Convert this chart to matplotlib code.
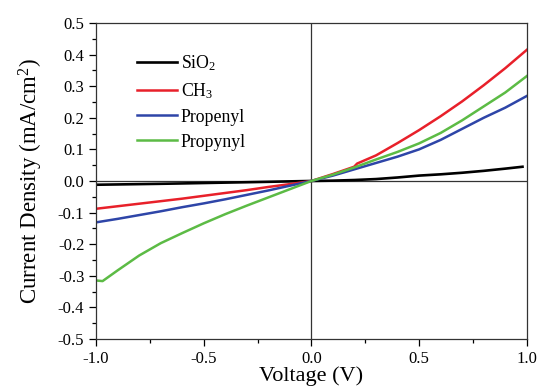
import matplotlib
matplotlib.use("Agg")
import matplotlib.pyplot as plt
from matplotlib.ticker import MultipleLocator

plt.rcParams['font.family'] = 'Liberation Serif'
plt.rcParams['mathtext.fontset'] = 'custom'
plt.rcParams['mathtext.rm'] = 'Liberation Serif'
plt.rcParams['mathtext.it'] = 'Liberation Serif:italic'

# values
v_sio2 = [-1.0, -0.9, -0.8, -0.7, -0.6, -0.5, -0.4, -0.3, -0.2, -0.1, 0.0,
          0.1, 0.2, 0.3, 0.4, 0.5, 0.6, 0.7, 0.8, 0.9, 0.98]
j_sio2 = [-0.012, -0.011, -0.010, -0.009, -0.0078, -0.0065, -0.0052, -0.004, -0.0027, -0.0013, 0.0,
          0.001, 0.003, 0.006, 0.011, 0.017, 0.021, 0.026, 0.032, 0.039, 0.045]

v_ch3 = [-1.0, -0.9, -0.8, -0.7, -0.6, -0.5, -0.4, -0.3, -0.2, -0.1, 0.0,
         0.1, 0.198, 0.212, 0.3, 0.4, 0.5, 0.6, 0.7, 0.8, 0.9, 1.0]
j_ch3 = [-0.088, -0.080, -0.072, -0.064, -0.056, -0.047, -0.038, -0.029, -0.019, -0.010, 0.0,
         0.022, 0.045, 0.055, 0.081, 0.120, 0.161, 0.205, 0.252, 0.303, 0.357, 0.415]

v_propenyl = [-1.0, -0.9, -0.8, -0.7, -0.6, -0.5, -0.4, -0.3, -0.2, -0.1, 0.0,
              0.1, 0.2, 0.3, 0.4, 0.5, 0.6, 0.7, 0.8, 0.9, 1.0]
j_propenyl = [-0.131, -0.120, -0.108, -0.096, -0.083, -0.071, -0.058, -0.044, -0.030, -0.015, 0.0,
              0.017, 0.037, 0.057, 0.077, 0.100, 0.130, 0.165, 0.200, 0.232, 0.269]

v_propynyl = [-1.0, -0.97, -0.9, -0.8, -0.7, -0.6, -0.5, -0.4, -0.3, -0.2, -0.1, 0.0,
              0.1, 0.2, 0.3, 0.4, 0.5, 0.6, 0.7, 0.8, 0.9, 1.0]
j_propynyl = [-0.315, -0.317, -0.283, -0.236, -0.197, -0.165, -0.134, -0.105, -0.078, -0.052, -0.026, 0.0,
              0.020, 0.043, 0.068, 0.092, 0.119, 0.152, 0.192, 0.236, 0.280, 0.332]

fig = plt.figure(figsize=(5.37, 3.9), dpi=100)
ax = fig.add_axes([0.179, 0.131, 0.802, 0.810])

ax.axhline(0, color='#333333', lw=0.9, zorder=1)
ax.axvline(0, color='#333333', lw=0.9, zorder=1)

ax.plot(v_sio2, j_sio2, color='black', lw=1.9, label='SiO$_2$')
ax.plot(v_ch3, j_ch3, color='#e8202a', lw=1.8, label='CH$_3$')
ax.plot(v_propenyl, j_propenyl, color='#2e45a8', lw=1.8, label='Propenyl')
ax.plot(v_propynyl, j_propynyl, color='#5cbb45', lw=1.8, label='Propynyl')

ax.set_xlim(-1.0, 1.0)
ax.set_ylim(-0.5, 0.5)
ax.xaxis.set_major_locator(MultipleLocator(0.5))
ax.xaxis.set_minor_locator(MultipleLocator(0.25))
ax.yaxis.set_major_locator(MultipleLocator(0.1))
ax.yaxis.set_minor_locator(MultipleLocator(0.05))
ax.xaxis.set_major_formatter(plt.FuncFormatter(lambda x, p: f'{x:.1f}'))
ax.yaxis.set_major_formatter(plt.FuncFormatter(lambda y, p: f'{y:.1f}'))
ax.tick_params(which='major', direction='out', length=5, width=0.9, labelsize=12)
ax.tick_params(which='minor', direction='out', length=3, width=0.9)
for s in ax.spines.values():
    s.set_linewidth(0.9)
    s.set_color('#333333')

ax.set_xlabel('Voltage (V)', fontsize=16, labelpad=0)
ax.set_ylabel('Current Density (mA/cm$^2$)', fontsize=16.5, labelpad=9)

ax.legend(loc='upper left', frameon=False, fontsize=12.8, handlelength=2.25,
          handletextpad=0.2, labelspacing=0.45, bbox_to_anchor=(0.058, 0.955))

fig.savefig('out.png', dpi=100)
